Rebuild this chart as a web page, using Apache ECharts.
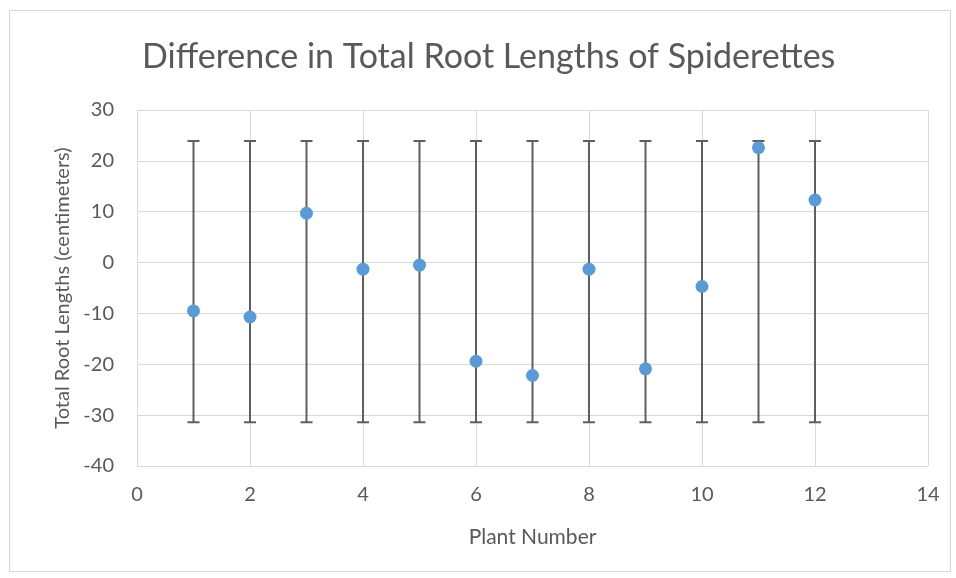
<!DOCTYPE html>
<html>
<head>
<meta charset="utf-8">
<script src="https://cdn.jsdelivr.net/npm/echarts@6/dist/echarts.min.js"></script>
<style>
  html, body { margin: 0; padding: 0; background: #fff; }
  #frame { position: absolute; left: 9px; top: 10px; width: 942px; height: 562px; border: 1px solid #d9d9d9; box-sizing: border-box; }
  #chart { width: 956px; height: 578px; position: absolute; left: 0; top: 0; }
</style>
</head>
<body>
<div id="frame"></div>
<div id="chart"></div>
<script>
// Plant numbers and their difference in total root length (cm)
const plantNumbers = [1, 2, 3, 4, 5, 6, 7, 8, 9, 10, 11, 12];
const rootDifference = [-9.5, -10.7, 9.7, -1.3, -0.5, -19.4, -22.2, -1.3, -20.9, -4.7, 22.6, 12.3];
// Error bar end points for each plant
const errorHigh = [23.9, 23.9, 23.9, 23.9, 23.9, 23.9, 23.9, 23.9, 23.9, 23.9, 23.9, 23.9];
const errorLow = [-31.4, -31.4, -31.4, -31.4, -31.4, -31.4, -31.4, -31.4, -31.4, -31.4, -31.4, -31.4];
// Axis ranges
const xTicks = { min: 0, max: 14, interval: 2 };
const yTicks = { min: -40, max: 30, interval: 10 };

const font = 'Lato, "Open Sans", sans-serif';
const textGray = '#595959';
const gridGray = '#d9d9d9';

const points = plantNumbers.map((x, i) => [x, rootDifference[i]]);
const bars = plantNumbers.map((x, i) => [x, errorLow[i], errorHigh[i]]);

const chart = echarts.init(document.getElementById('chart'));
chart.setOption({
  animation: false,
  title: {
    text: 'Difference in Total Root Lengths of Spiderettes',
    left: 137,
    top: 35,
    textStyle: { fontFamily: font, fontSize: 34, fontWeight: 'normal', color: textGray }
  },
  grid: { left: 137, right: 28, top: 110, bottom: 112 },
  xAxis: {
    type: 'value',
    min: xTicks.min, max: xTicks.max, interval: xTicks.interval,
    name: 'Plant Number',
    nameLocation: 'middle',
    nameGap: 61,
    nameTextStyle: { fontFamily: font, fontSize: 21, color: textGray },
    axisLine: { show: false },
    axisTick: { show: false },
    axisLabel: { fontFamily: font, fontSize: 20, color: textGray, margin: 19 },
    splitLine: { show: true, lineStyle: { color: gridGray, width: 1 } }
  },
  yAxis: {
    type: 'value',
    min: yTicks.min, max: yTicks.max, interval: yTicks.interval,
    name: 'Total Root Lengths (centimeters)',
    nameLocation: 'middle',
    nameGap: 64,
    nameTextStyle: { fontFamily: font, fontSize: 20, color: textGray },
    axisLine: { show: false },
    axisTick: { show: false },
    axisLabel: { fontFamily: font, fontSize: 20, color: textGray, margin: 23 },
    splitLine: { show: true, lineStyle: { color: gridGray, width: 1 } }
  },
  series: [
    {
      type: 'custom',
      name: 'error',
      data: bars,
      z: 2,
      renderItem: function (params, api) {
        const x = api.value(0);
        const lo = api.coord([x, api.value(1)]);
        const hi = api.coord([x, api.value(2)]);
        const cap = 6;
        const style = { stroke: '#5f5f5f', lineWidth: 2 };
        return {
          type: 'group',
          children: [
            { type: 'line', shape: { x1: hi[0], y1: hi[1], x2: lo[0], y2: lo[1] }, style: style },
            { type: 'line', shape: { x1: hi[0] - cap, y1: hi[1], x2: hi[0] + cap, y2: hi[1] }, style: style },
            { type: 'line', shape: { x1: lo[0] - cap, y1: lo[1], x2: lo[0] + cap, y2: lo[1] }, style: style }
          ]
        };
      }
    },
    {
      type: 'scatter',
      name: 'Difference',
      data: points,
      symbol: 'circle',
      symbolSize: 13,
      z: 3,
      itemStyle: { color: '#5b9bd5', opacity: 1 }
    }
  ]
});
</script>
</body>
</html>
